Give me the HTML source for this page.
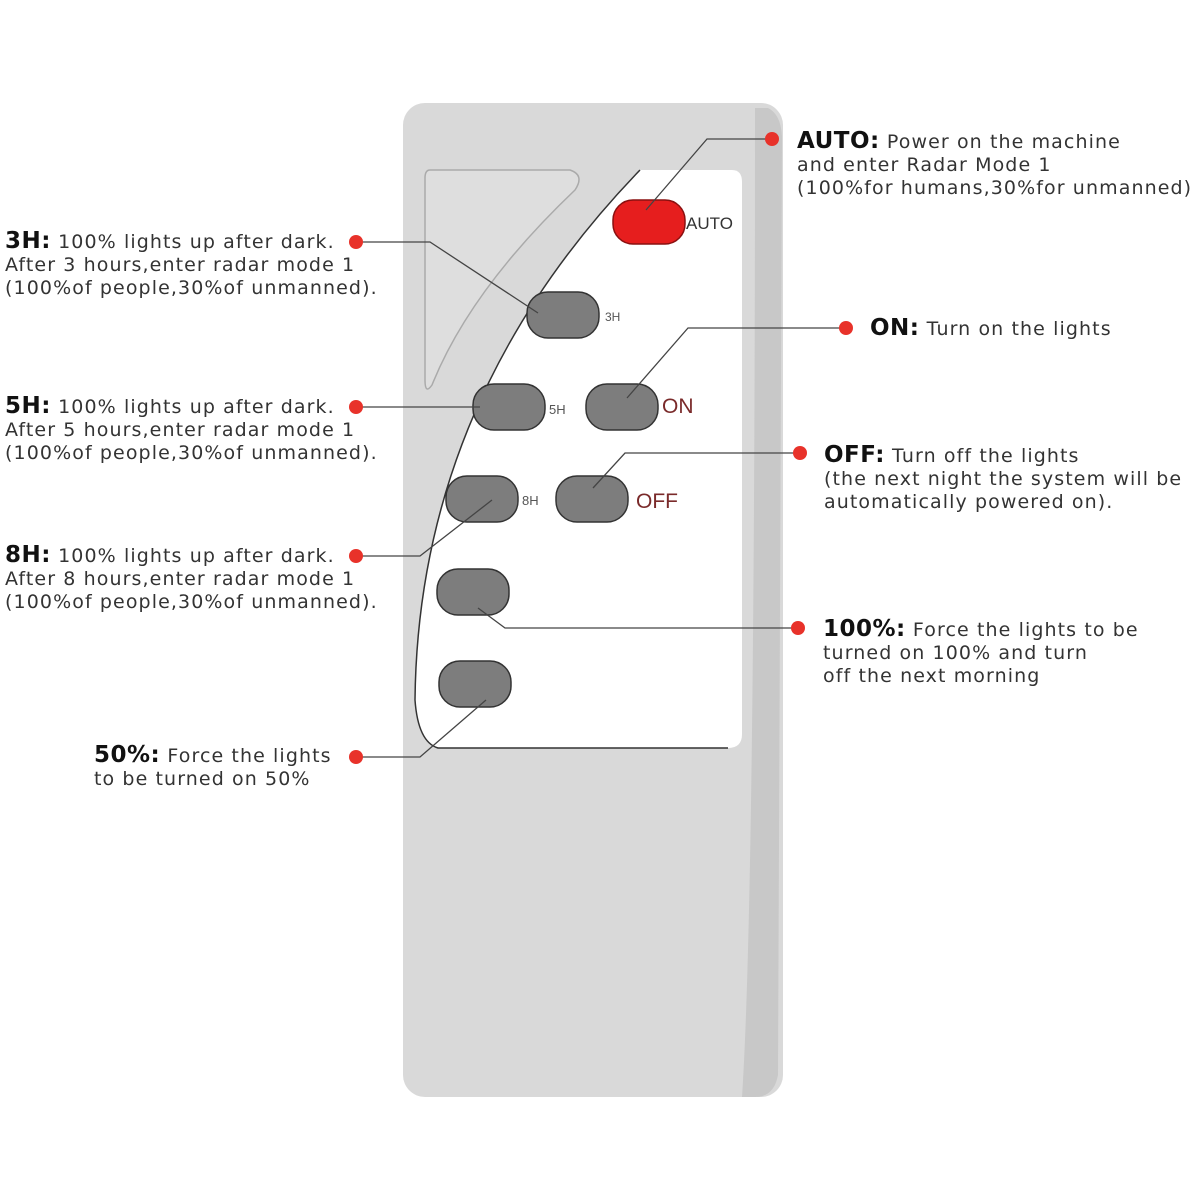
<!DOCTYPE html>
<html><head><meta charset="utf-8"><style>
body{margin:0;background:#fff;width:1200px;height:1200px;overflow:hidden;position:relative;font-family:"DejaVu Sans","Liberation Sans",sans-serif;}
.t{position:absolute;font-size:19px;color:#333;line-height:23px;white-space:nowrap;letter-spacing:1.1px}
.t b{font-size:23px;color:#111;font-weight:bold;letter-spacing:0.5px}
</style></head><body>
<svg width="1200" height="1200" style="position:absolute;left:0;top:0">
<rect x="403" y="103" width="380" height="994" rx="22" fill="#d9d9d9"/>
<path d="M755 108 L768 108 Q782 115 782 140 L778 1075 Q774 1097 755 1097 L742 1097 Q755 900 755 108Z" fill="#c8c8c8"/>
<path d="M430 170 L570 170 Q585 175 575 190 Q470 290 432 385 Q425 395 425 380 L425 178 Q425 170 430 170Z" fill="#dedede" stroke="#aaa" stroke-width="1.5"/>
<path d="M640 170 L732 170 Q742 170 742 182 L742 734 Q742 748 728 748 L438 748 Q418 742 415 700 Q418 400 640 170Z" fill="#fff"/>
<path d="M640 170 Q418 400 415 700 Q418 742 438 748 L728 748" fill="none" stroke="#333" stroke-width="1.5"/>
<g stroke="#333" stroke-width="1.5">
<rect x="613" y="200" width="72" height="44" rx="20" fill="#e61e1e" stroke="#8a1010"/>
<rect x="527" y="292" width="72" height="46" rx="21" fill="#7d7d7d"/>
<rect x="473" y="384" width="72" height="46" rx="21" fill="#7d7d7d"/>
<rect x="586" y="384" width="72" height="46" rx="21" fill="#7d7d7d"/>
<rect x="446" y="476" width="72" height="46" rx="21" fill="#7d7d7d"/>
<rect x="556" y="476" width="72" height="46" rx="21" fill="#7d7d7d"/>
<rect x="437" y="569" width="72" height="46" rx="21" fill="#7d7d7d"/>
<rect x="439" y="661" width="72" height="46" rx="21" fill="#7d7d7d"/>
</g>
<g font-family="Liberation Sans,sans-serif">
<text x="686" y="229" font-size="17" fill="#333">AUTO</text>
<text x="605" y="321" font-size="12" fill="#555">3H</text>
<text x="549" y="414" font-size="13" fill="#555">5H</text>
<text x="662" y="413" font-size="21" fill="#7a2a2a">ON</text>
<text x="522" y="505" font-size="13" fill="#555">8H</text>
<text x="636" y="508" font-size="21" fill="#7a2a2a">OFF</text>
</g>
<g stroke="#444" stroke-width="1.3" fill="none">
<polyline points="772,139 707,139 646,210"/>
<polyline points="356,242 430,242 538,313"/>
<polyline points="356,407 480,407"/>
<polyline points="846,328 688,328 627,398"/>
<polyline points="800,453 625,453 593,488"/>
<polyline points="356,556 420,556 492,500"/>
<polyline points="798,628 505,628 478,608"/>
<polyline points="356,757 420,757 486,700"/>
</g>
<g fill="#e8322a">
<circle cx="772" cy="139" r="7"/><circle cx="356" cy="242" r="7"/><circle cx="356" cy="407" r="7"/>
<circle cx="846" cy="328" r="7"/><circle cx="800" cy="453" r="7"/><circle cx="356" cy="556" r="7"/>
<circle cx="798" cy="628" r="7"/><circle cx="356" cy="757" r="7"/>
</g>
</svg>
<div class="t" style="left:797px;top:130px"><b>AUTO:</b> Power on the machine<br>and enter Radar Mode 1<br>(100%for humans,30%for unmanned)</div>
<div class="t" style="left:5px;top:230px"><b>3H:</b> 100% lights up after dark.<br>After 3 hours,enter radar mode 1<br>(100%of people,30%of unmanned).</div>
<div class="t" style="left:5px;top:395px"><b>5H:</b> 100% lights up after dark.<br>After 5 hours,enter radar mode 1<br>(100%of people,30%of unmanned).</div>
<div class="t" style="left:5px;top:544px"><b>8H:</b> 100% lights up after dark.<br>After 8 hours,enter radar mode 1<br>(100%of people,30%of unmanned).</div>
<div class="t" style="left:870px;top:317px"><b>ON:</b> Turn on the lights</div>
<div class="t" style="left:824px;top:444px"><b>OFF:</b> Turn off the lights<br>(the next night the system will be<br>automatically powered on).</div>
<div class="t" style="left:823px;top:618px"><b>100%:</b> Force the lights to be<br>turned on 100% and turn<br>off the next morning</div>
<div class="t" style="left:94px;top:744px"><b>50%:</b> Force the lights<br>to be turned on 50%</div>
</body></html>
